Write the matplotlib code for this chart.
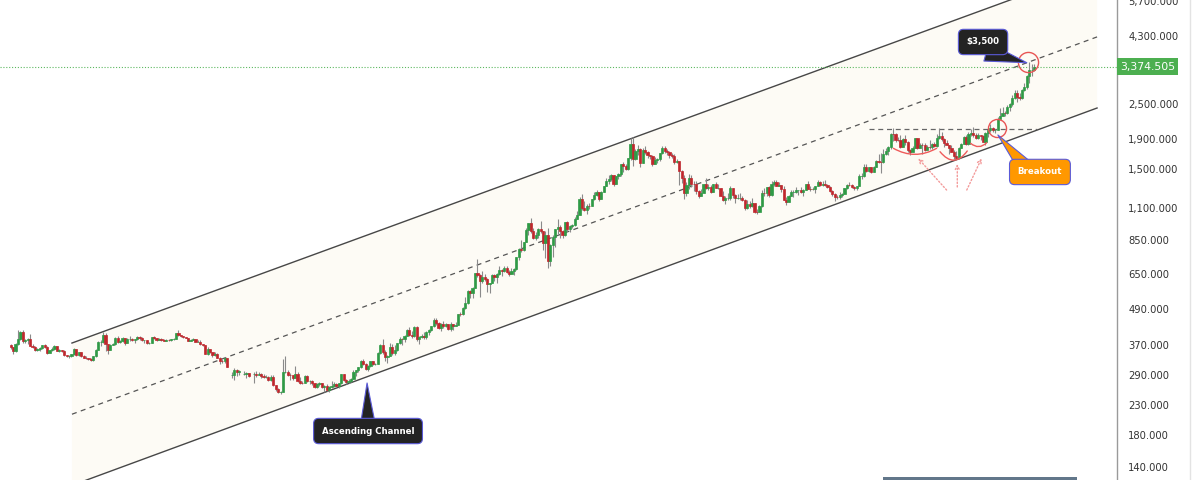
import numpy as np
import matplotlib.pyplot as plt
from matplotlib.lines import Line2D
from matplotlib.patches import Rectangle
from matplotlib.ticker import NullLocator

nan = np.nan

# monthly gold candles, May 1990 .. Jun 2025 (x = month index)
first_open = 368
closes = [
    363, 352, 372, 387, 408, 380, 384, 386,
    367, 363, 356, 357, 360, 368, 362, 347, 354, 358, 366, 353,
    354, 353, 341, 337, 337, 343, 357, 340, 349, 339, 334, 333,
    330, 327, 337, 355, 378, 378, 401, 372, 355, 369, 371, 391,
    377, 381, 389, 376, 387, 388, 384, 386, 394, 389, 383, 383,
    375, 376, 392, 389, 385, 387, 383, 382, 384, 383, 387, 387,
    405, 400, 396, 392, 391, 382, 385, 387, 379, 379, 371, 369,
    345, 358, 349, 340, 345, 334, 326, 325, 332, 311, nan, 290,
    302, 297, 301, nan, 293, 296, 288, nan, 294, 292, 294, 288,
    287, 287, 280, 286, 268, 261, 255, 255, 299, 299, 292, 290,
    283, 293, 277, 274, 272, 288, 277, 278, 274, 264, 270, 273,
    265, 267, 258, 264, 267, 271, 266, 273, 293, 279, 275, 277,
    282, 297, 302, 309, 326, 318, 305, 313, 324, 317, 318, 347,
    368, 348, 335, 339, 364, 346, 355, 375, 388, 386, 398, 416,
    401, 396, 427, 388, 394, 396, 392, 408, 416, 429, 452, 438,
    422, 436, 428, 436, 418, 436, 430, 434, 473, 471, 495, 517,
    568, 556, 582, 654, 643, 613, 633, 624, 598, 604, 646, 632,
    650, 669, 663, 680, 659, 650, 665, 673, 743, 789, 783, 834,
    923, 972, 916, 863, 886, 926, 913, 833, 884, 718, 816, 869,
    927, 942, 916, 883, 979, 927, 954, 955, 1008, 1040, 1182, 1096,
    1081, 1118, 1113, 1179, 1213, 1244, 1181, 1248, 1308, 1357, 1386, 1421,
    1332, 1411, 1439, 1556, 1536, 1500, 1628, 1828, 1620, 1722, 1746, 1564,
    1737, 1711, 1669, 1664, 1560, 1604, 1614, 1692, 1773, 1719, 1714, 1675,
    1663, 1578, 1596, 1472, 1393, 1234, 1313, 1396, 1327, 1323, 1253, 1202,
    1240, 1326, 1284, 1296, 1250, 1327, 1282, 1287, 1210, 1171, 1183, 1184,
    1284, 1213, 1183, 1183, 1190, 1172, 1095, 1133, 1115, 1142, 1065, 1061,
    1118, 1238, 1233, 1293, 1215, 1322, 1351, 1309, 1316, 1277, 1173, 1152,
    1211, 1249, 1249, 1268, 1269, 1242, 1269, 1322, 1280, 1271, 1275, 1303,
    1345, 1318, 1325, 1316, 1299, 1253, 1224, 1201, 1192, 1215, 1222, 1282,
    1321, 1313, 1292, 1284, 1305, 1409, 1414, 1520, 1472, 1513, 1464, 1517,
    1587, 1585, 1577, 1686, 1730, 1781, 1975, 1968, 1886, 1879, 1776, 1898,
    1848, 1734, 1708, 1769, 1906, 1770, 1814, 1813, 1743, 1783, 1775, 1829,
    1797, 1909, 1937, 1897, 1837, 1807, 1766, 1711, 1661, 1633, 1768, 1824,
    1928, 1827, 1969, 1990, 1963, 1919, 1965, 1940, 1849, 1983, 2036, 2063,
    2039, 2044, 2230, 2286, 2327, 2326, 2447, 2503, 2635, 2744, 2657, 2625,
    2798, 2858, 3124, 3289, 3289, 3374.5,
]
highs = [
    372, 364, 374, 416, 413, 416, 388, 389,
    404, 372, 366, 360, 362, 370, 371, 365, 356, 362, 368, 366,
    358, 356, 354, 342, 340, 345, 360, 358, 350, 349, 340, 337,
    334, 332, 339, 359, 380, 384, 409, 406, 373, 372, 375, 392,
    396, 385, 392, 390, 389, 395, 389, 388, 398, 397, 392, 384,
    382, 379, 393, 396, 391, 389, 389, 387, 386, 386, 388, 390,
    406, 415, 401, 396, 394, 391, 388, 390, 388, 384, 383, 372,
    369, 364, 356, 350, 350, 346, 336, 330, 336, 311, nan, 298,
    307, 304, 303, nan, 301, 297, 296, nan, 298, 301, 298, 296,
    293, 291, 289, 292, 290, 268, 263, 257, 330, 338, 302, 295,
    292, 313, 297, 287, 277, 291, 291, 280, 279, 274, 272, 276,
    273, 269, 270, 266, 277, 276, 272, 274, 294, 294, 281, 282,
    285, 303, 303, 310, 327, 330, 320, 316, 325, 325, 321, 350,
    372, 388, 355, 341, 374, 371, 368, 376, 392, 391, 399, 418,
    427, 414, 428, 430, 396, 404, 408, 412, 418, 429, 456, 456,
    443, 438, 446, 438, 437, 443, 435, 444, 474, 479, 498, 540,
    570, 572, 586, 655, 730, 650, 667, 651, 630, 606, 650, 649,
    656, 690, 673, 694, 692, 671, 680, 679, 744, 795, 848, 840,
    933, 975, 1012, 936, 906, 934, 988, 917, 912, 934, 825, 882,
    931, 1005, 958, 923, 980, 989, 959, 965, 1024, 1070, 1195, 1227,
    1162, 1128, 1139, 1180, 1249, 1265, 1243, 1251, 1310, 1388, 1425, 1432,
    1424, 1413, 1447, 1557, 1577, 1553, 1632, 1912, 1921, 1755, 1803, 1764,
    1764, 1791, 1718, 1676, 1666, 1641, 1625, 1694, 1788, 1796, 1755, 1727,
    1695, 1679, 1617, 1599, 1488, 1424, 1348, 1434, 1424, 1361, 1362, 1267,
    1280, 1332, 1392, 1332, 1315, 1332, 1345, 1323, 1288, 1255, 1209, 1239,
    1308, 1284, 1224, 1224, 1232, 1206, 1175, 1170, 1157, 1191, 1143, 1088,
    1123, 1263, 1283, 1296, 1304, 1362, 1375, 1367, 1353, 1318, 1307, 1192,
    1219, 1264, 1264, 1295, 1270, 1297, 1272, 1331, 1357, 1306, 1299, 1306,
    1366, 1361, 1356, 1366, 1326, 1309, 1266, 1237, 1214, 1243, 1237, 1284,
    1326, 1347, 1324, 1310, 1306, 1439, 1453, 1555, 1557, 1517, 1516, 1525,
    1611, 1689, 1704, 1747, 1765, 1789, 1984, 2075, 1992, 1933, 1966, 1906,
    1959, 1871, 1756, 1798, 1913, 1916, 1832, 1831, 1834, 1814, 1877, 1831,
    1853, 1975, 2070, 1998, 1910, 1880, 1814, 1808, 1735, 1730, 1787, 1833,
    1949, 1959, 2009, 2049, 2079, 1984, 1987, 1949, 1953, 2009, 2052, 2135,
    2088, 2053, 2265, 2431, 2450, 2369, 2484, 2531, 2685, 2790, 2801, 2726,
    2817, 2956, 3148, 3500, 3435, 3452,
]
lows = [
    358, 345, 350, 368, 383, 375, 374, 372,
    365, 360, 351, 352, 352, 358, 360, 344, 346, 353, 355, 352,
    350, 350, 339, 335, 334, 336, 342, 337, 338, 336, 332, 330,
    327, 326, 326, 335, 354, 366, 375, 353, 343, 354, 368, 370,
    375, 374, 377, 369, 375, 381, 381, 375, 384, 385, 380, 376,
    371, 372, 375, 387, 382, 383, 381, 380, 381, 381, 382, 385,
    387, 396, 394, 389, 389, 381, 381, 384, 378, 378, 370, 366,
    343, 340, 346, 336, 338, 333, 318, 320, 320, 311, nan, 283,
    279, 289, 291, nan, 292, 285, 286, nan, 273, 287, 290, 285,
    284, 283, 278, 278, 267, 257, 253, 251, 254, 295, 289, 279,
    280, 283, 276, 271, 270, 272, 276, 270, 269, 263, 263, 266,
    262, 255, 256, 254, 262, 265, 264, 263, 271, 278, 270, 273,
    276, 281, 288, 299, 307, 316, 302, 301, 311, 314, 314, 317,
    344, 344, 325, 319, 337, 342, 342, 352, 372, 370, 379, 397,
    398, 390, 393, 380, 372, 389, 387, 386, 401, 413, 427, 432,
    419, 414, 424, 425, 415, 413, 417, 429, 432, 464, 469, 492,
    513, 538, 537, 581, 635, 542, 605, 612, 561, 560, 602, 613,
    603, 646, 637, 659, 652, 639, 647, 642, 670, 726, 776, 781,
    834, 883, 900, 856, 849, 862, 900, 786, 735, 681, 690, 745,
    802, 891, 867, 865, 880, 914, 908, 938, 951, 1003, 1044, 1075,
    1074, 1045, 1087, 1113, 1166, 1202, 1158, 1175, 1243, 1313, 1330, 1360,
    1309, 1324, 1381, 1416, 1462, 1478, 1481, 1601, 1534, 1603, 1670, 1523,
    1563, 1690, 1627, 1613, 1527, 1550, 1565, 1588, 1684, 1693, 1671, 1635,
    1626, 1555, 1562, 1321, 1338, 1180, 1208, 1271, 1291, 1251, 1226, 1187,
    1202, 1238, 1277, 1268, 1240, 1241, 1281, 1273, 1204, 1161, 1131, 1172,
    1167, 1190, 1142, 1178, 1170, 1162, 1077, 1084, 1098, 1106, 1053, 1046,
    1062, 1107, 1207, 1208, 1200, 1207, 1310, 1303, 1304, 1241, 1171, 1123,
    1146, 1205, 1194, 1240, 1214, 1236, 1205, 1265, 1274, 1260, 1264, 1236,
    1302, 1307, 1303, 1310, 1282, 1246, 1211, 1160, 1180, 1182, 1196, 1221,
    1276, 1310, 1281, 1266, 1266, 1301, 1381, 1400, 1459, 1458, 1445, 1456,
    1517, 1563, 1451, 1567, 1670, 1671, 1757, 1863, 1849, 1860, 1764, 1775,
    1802, 1717, 1677, 1705, 1766, 1750, 1768, 1688, 1721, 1746, 1759, 1753,
    1781, 1786, 1890, 1872, 1787, 1806, 1681, 1709, 1615, 1617, 1616, 1765,
    1823, 1805, 1810, 1950, 1932, 1893, 1903, 1885, 1846, 1810, 1931, 2010,
    2002, 1985, 2039, 2228, 2277, 2286, 2318, 2364, 2472, 2604, 2536, 2583,
    2614, 2772, 2833, 2957, 3121, 3245,
]

ytick_vals = [140, 180, 230, 290, 370, 490, 650, 850, 1100, 1500, 1900, 2500, 4300, 5700]
last_price = 3374.505

# channel lines: (month index, price) at both ends
chan_x = [25.2, 446.9]
chan_top = [375, 7370]
chan_mid = [213, 4270]
chan_bot = [121, 2427]

# neckline of the base before the breakout
neck_x = [353, 422]
neck_price = 2060

# rounded dips inside the base (start, end)
arcs = [((363.1, 1762), (380.9, 1762), 0.28),
        ((382.3, 1715), (393.5, 1725), 0.65),
        ((394.9, 1833), (401.5, 1842), 0.45)]
# dotted pointers (base, tip)
pointers = [((385.0, 1265), (373.3, 1627)),
            ((389.4, 1296), (389.4, 1555)),
            ((393.3, 1265), (399.4, 1627))]

GREEN = '#2f9a46'
RED = '#c0272d'

fig = plt.figure(figsize=(12, 4.8), dpi=100)
ax = fig.add_axes([0, 0, 1117 / 1200, 1])
ax.set_yscale('log')
ax.set_xlim(-4.4, 455.1)
ax.set_ylim(126.3, 5725)

# channel
ax.fill_between(chan_x, chan_bot, chan_top, color='#fdfbf5', lw=0, zorder=0)
ax.plot(chan_x, chan_top, color='#474747', lw=1.0, zorder=1)
ax.plot(chan_x, chan_bot, color='#474747', lw=1.0, zorder=1)
ax.plot(chan_x, chan_mid, color='#555555', lw=0.9, ls=(0, (4, 3.5)), zorder=1)
ax.plot(neck_x, [neck_price, neck_price], color='#666666', lw=0.9, ls=(0, (4, 3)), zorder=1)

# candles
c = np.array(closes, float)
h = np.array(highs, float)
l = np.array(lows, float)
o = np.r_[first_open, c[:-1]]
o = np.where(np.isnan(o), c, o)
x = np.arange(len(c))
ok = ~np.isnan(c)
x, o, h, l, c = x[ok], o[ok], h[ok], l[ok], c[ok]
bot = np.minimum(o, c)
top = np.maximum(o, c)
cols = np.where(c >= o, GREEN, RED)
ax.vlines(x, np.minimum(l, bot), np.maximum(h, top), color='#8a8a8a', lw=0.8, zorder=2)
ax.bar(x, top - bot, bottom=bot, width=0.9, color=cols, edgecolor=cols, lw=0.5, zorder=3)

# last price line + tag
ax.axhline(last_price, color='#5cb860', lw=0.8, ls=(0, (1, 1.6)), zorder=1)
ax.annotate(f'{last_price:,.3f}', xy=(1, last_price), xycoords=('axes fraction', 'data'),
            xytext=(2.2, 0), textcoords='offset points', ha='left', va='center',
            fontsize=7.8, color='white', annotation_clip=False,
            bbox=dict(boxstyle='square,pad=0.3', fc='#4caf50', ec='none'))

# pattern marks
for start, end, rad in arcs:
    ax.annotate('', xy=end, xytext=start,
                arrowprops=dict(arrowstyle='-', connectionstyle=f'arc3,rad={rad}',
                                color='#ef5b5b', lw=1.0, shrinkA=0, shrinkB=0))
for base, tip in pointers:
    ax.annotate('', xy=tip, xytext=base,
                arrowprops=dict(arrowstyle='->', ls=(0, (1, 1.5)), color='#f39a9a', lw=1.0,
                                shrinkA=0, shrinkB=0, mutation_scale=7))
ax.plot([418.5], [3498], marker='o', ms=14.5, mfc='none', mec='#e85555', mew=1.0, zorder=6)
ax.plot([405.8], [2070], marker='o', ms=13, mfc='none', mec='#e85555', mew=1.0, zorder=6)

# callouts
def callout(text, box, tip, fc, relpos, tw):
    ax.annotate(text, xy=tip, xytext=box, ha='center', va='center', color='white',
                fontsize=6.2, fontweight='bold', zorder=10,
                bbox=dict(boxstyle='round,pad=0.95,rounding_size=0.6', fc=fc, ec='#5a5ad8', lw=0.8),
                arrowprops=dict(arrowstyle=f'wedge,tail_width={tw},shrink_factor=0.5', fc=fc,
                                ec='#5a5ad8', lw=0.8, relpos=relpos, patchA=None,
                                shrinkA=0, shrinkB=0))

callout('$3,500', (400, 4101), (418, 3478), '#232323', (0.6, -0.6), 2.2)
callout('Breakout', (423.4, 1460), (406.1, 1959), '#ff9800', (0.2, 0.9), 1.8)
callout('Ascending Channel', (147, 186.4), (146.6, 273), '#232323', (0.5, 0.5), 2.0)

# price axis on the right
ax.yaxis.tick_right()
ax.yaxis.set_minor_locator(NullLocator())
ax.set_yticks(ytick_vals)
ax.set_yticklabels([f'{v:,.3f}' for v in ytick_vals])
ax.tick_params(axis='y', length=0, pad=8, labelsize=7.2, labelcolor='#333333')
ax.set_xticks([])
for s in ['left', 'top', 'bottom']:
    ax.spines[s].set_visible(False)
ax.spines['right'].set_color('#9a9a9a')
ax.spines['right'].set_linewidth(1.0)

fig.add_artist(Line2D([1190 / 1200] * 2, [0, 1], color='#e3e3e3', lw=1))
fig.add_artist(Rectangle((883 / 1200, 0), 194 / 1200, 3 / 480, color='#62778a', lw=0))

fig.savefig('out.png', dpi=100)
